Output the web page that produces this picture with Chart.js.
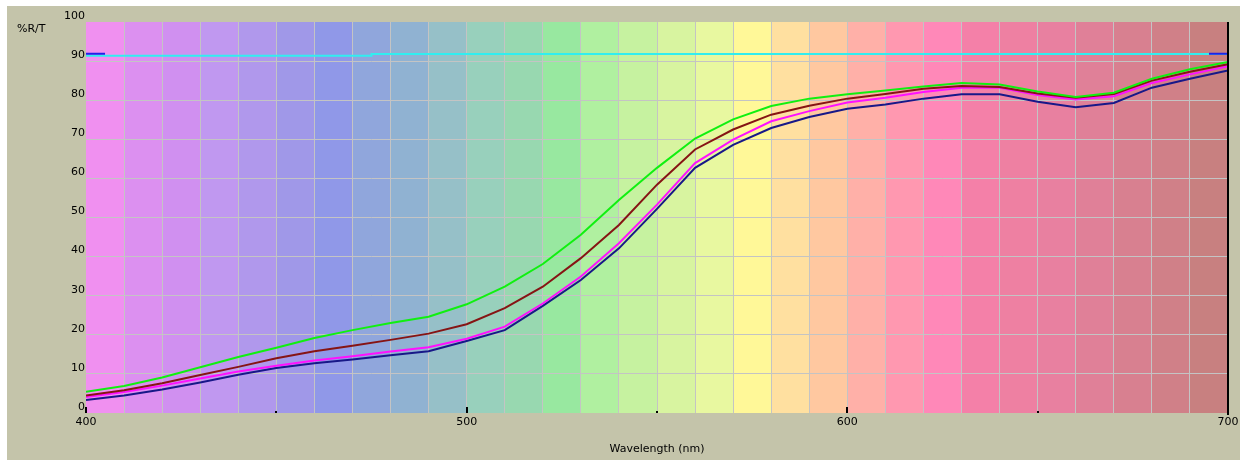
<!DOCTYPE html>
<html>
<head>
<meta charset="utf-8">
<script src="https://cdn.jsdelivr.net/npm/chart.js@4.4.0/dist/chart.umd.min.js"></script>
<style>
  html, body { margin: 0; padding: 0; background: #ffffff; }
  canvas { display: block; }
</style>
</head>
<body>
<canvas id="spectrum" width="1244" height="463"></canvas>
<script>
// wavelengths (nm), one sample every 10 nm
var wavelengths = [400,410,420,430,440,450,460,470,480,490,500,510,520,530,540,550,560,570,580,590,600,610,620,630,640,650,660,670,680,690,700];

// %R/T readings per sample
var greenVals   = [5.4,6.9,9.1,11.7,14.3,16.7,19.2,21.2,23.0,24.6,27.8,32.3,38.1,45.6,54.5,62.7,70.2,75.1,78.5,80.4,81.5,82.5,83.5,84.4,84.0,82.2,80.8,81.9,85.5,87.9,89.8];
var brownVals   = [4.5,5.8,7.6,9.7,11.8,14.0,15.8,17.2,18.7,20.3,22.7,26.8,32.3,39.6,48.1,58.4,67.4,72.5,76.3,78.6,80.4,81.6,82.9,83.6,83.4,81.7,80.6,81.6,85.0,87.3,89.2];
var magentaVals = [4.1,5.4,7.0,8.8,10.6,12.1,13.4,14.5,15.7,16.8,19.0,22.1,28.0,34.9,43.4,53.3,63.9,69.9,74.6,77.2,79.4,80.6,82.1,83.2,83.2,81.3,80.2,81.0,84.4,86.6,88.7];
var navyVals    = [3.3,4.5,6.0,7.8,9.8,11.5,12.7,13.7,14.8,15.8,18.4,21.2,27.4,34.0,42.1,52.2,62.7,68.6,72.9,75.7,77.8,78.9,80.4,81.5,81.5,79.6,78.2,79.3,83.2,85.5,87.6];

// reference (baseline) trace near the top
var refX = [400,475,475,700];
var refY = [91.4,91.4,91.8,91.8];
var markX = [400,405,null,695,700];
var markY = [91.9,91.9,null,91.9,91.9];

// spectrum band colours, one per 10 nm band from 400 to 700
var bandStarts = [400,410,420,430,440,450,460,470,480,490,500,510,520,530,540,550,560,570,580,590,600,610,620,630,640,650,660,670,680,690];
var bandColors = ['#f090f0','#dc90f0','#d090f0','#c098f0','#b098ec','#a098e8','#9098e8','#90a6dc','#90b2d2','#96c0c8',
                  '#98d0bc','#98d8b0','#98e8a0','#b0f0a0','#c6f2a0','#d8f4a0','#e8f8a0','#fff898','#ffe0a0','#ffc8a0',
                  '#ffb0a8','#ff98b0','#ff88b8','#f480a8','#ee80a2','#e880a0','#e08098','#d88090','#d08088','#c88080'];

var yTicks = [0,10,20,30,40,50,60,70,80,90,100];
var xLabels = [400,500,600,700];

function pairs(xs, ys){
  var out = [];
  for(var i = 0; i < xs.length; ++i){
    out.push({x: xs[i], y: ys[i]});
  }
  return out;
}

var bgPlugin = {
  id: 'spectrumBg',
  beforeDraw: function(chart){
    var ctx = chart.ctx;
    var xs = chart.scales.x;
    var area = chart.chartArea;
    ctx.save();
    ctx.fillStyle = '#c4c4aa';
    ctx.fillRect(7, 6, 1233, 454);
    for(var i = 0; i < bandStarts.length; ++i){
      var x0 = xs.getPixelForValue(bandStarts[i]);
      var x1 = xs.getPixelForValue(bandStarts[i] + 10);
      ctx.fillStyle = bandColors[i];
      ctx.fillRect(x0, area.top, x1 - x0, area.bottom - area.top);
    }
    ctx.restore();
  },
  afterDraw: function(chart){
    var ctx = chart.ctx;
    var xs = chart.scales.x;
    var area = chart.chartArea;
    ctx.save();
    ctx.fillStyle = '#000000';
    // little tick marks along the bottom edge
    for(var v = 400; v <= 650; v += 50){
      var px = Math.round(xs.getPixelForValue(v));
      var len = (v % 100 == 0) ? 6 : 2;
      ctx.fillRect(px - 1, area.bottom - len, 2, len);
    }
    // right border line
    var rx = Math.round(xs.getPixelForValue(700));
    ctx.fillRect(rx - 1, area.top, 2, area.bottom - area.top + 2);
    // y axis caption
    ctx.font = '11px "DejaVu Sans"';
    ctx.textAlign = 'left';
    ctx.textBaseline = 'middle';
    ctx.fillText('%R/T', 17, 29);
    ctx.restore();
  }
};

function edgeGrid(lo, hi){
  return function(c){
    if(c.tick && (c.tick.value == lo || c.tick.value == hi)) return 'rgba(0,0,0,0)';
    return '#c4c4c4';
  };
}

var lineStyle = { pointRadius: 0, borderWidth: 2, tension: 0, fill: false };

var chart = new Chart(document.getElementById('spectrum').getContext('2d'), {
  type: 'line',
  data: {
    datasets: [
      Object.assign({ data: pairs(wavelengths, greenVals),   borderColor: '#10f010' }, lineStyle),
      Object.assign({ data: pairs(wavelengths, brownVals),   borderColor: '#861414' }, lineStyle),
      Object.assign({ data: pairs(wavelengths, magentaVals), borderColor: '#ff10ff' }, lineStyle),
      Object.assign({ data: pairs(wavelengths, navyVals),    borderColor: '#181888' }, lineStyle),
      Object.assign({ data: pairs(markX, markY), borderColor: '#2020e8', spanGaps: false }, lineStyle),
      Object.assign({ data: pairs(refX, refY),   borderColor: '#30eef0' }, lineStyle)
    ]
  },
  options: {
    responsive: false,
    animation: false,
    devicePixelRatio: 1,
    layout: { padding: { left: 0, top: 22, right: 16, bottom: 0 } },
    plugins: { legend: { display: false }, tooltip: { enabled: false } },
    scales: {
      x: {
        type: 'linear',
        min: 400,
        max: 700,
        border: { display: false },
        grid: { color: edgeGrid(400, 700), lineWidth: 1, drawTicks: false },
        ticks: {
          stepSize: 10,
          autoSkip: false,
          maxRotation: 0,
          padding: 3,
          color: '#000000',
          font: { family: 'DejaVu Sans', size: 11 },
          callback: function(val){ return xLabels.indexOf(val) > -1 ? String(val) : ''; }
        },
        title: {
          display: true,
          text: 'Wavelength (nm)',
          color: '#000000',
          font: { family: 'DejaVu Sans', size: 11 },
          padding: { top: 0, bottom: 7 }
        },
        afterFit: function(scale){ scale.height = 50; }
      },
      y: {
        min: 0,
        max: 100,
        border: { display: false },
        grid: { color: edgeGrid(0, 100), lineWidth: 1, drawTicks: false },
        afterBuildTicks: function(scale){
          scale.ticks = yTicks.map(function(v){ return { value: v }; });
        },
        ticks: {
          padding: 1,
          labelOffset: -6,
          color: '#000000',
          font: { family: 'DejaVu Sans', size: 11 }
        },
        afterFit: function(scale){ scale.width = 86; }
      }
    }
  },
  plugins: [bgPlugin]
});
</script>
</body>
</html>
